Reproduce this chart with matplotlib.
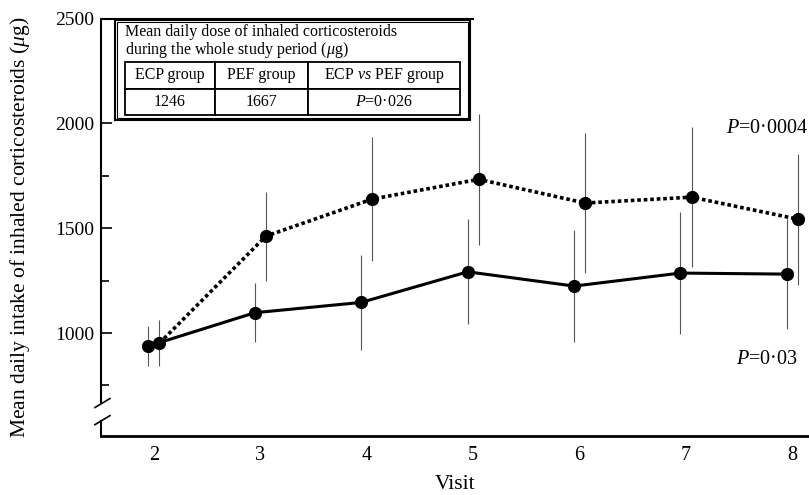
import matplotlib
matplotlib.use('Agg')
import matplotlib.pyplot as plt
import numpy as np
from matplotlib.patches import Rectangle

plt.rcParams['font.family'] = ['Liberation Serif', 'DejaVu Serif']
plt.rcParams['mathtext.fontset'] = 'custom'
plt.rcParams['mathtext.rm'] = 'Liberation Serif'
plt.rcParams['mathtext.it'] = 'Liberation Serif:italic'

# values
visits = [2, 3, 4, 5, 6, 7, 8]
ecp_mean = [938, 1097, 1146, 1292, 1224, 1286, 1281]
ecp_err = [95, 142, 228, 250, 266, 290, 262]
pef_mean = [952, 1462, 1639, 1733, 1620, 1648, 1543]
pef_err = [110, 212, 297, 314, 336, 335, 312]

box_title = ['Mean daily dose of inhaled corticosteroids',
             'during the whole study period ($\\mu$g)']
table_header = ['ECP group', 'PEF group', 'ECP $vs$ PEF group']
table_values = ['1246', '1667', '$P$=0·026']
p_pef = '$P$=0·0004'
p_ecp = '$P$=0·03'

fig = plt.figure(figsize=(8.09, 4.95), dpi=100)
ax = fig.add_axes([0.1248, 0.1192, 0.8752, 0.8434])

# small horizontal shift so the two groups don't overlap
shift = 0.052
x = np.array(visits)

ax.errorbar(x - shift, ecp_mean, yerr=ecp_err, fmt='none', ecolor='#555555',
            elinewidth=0.8, capsize=0, zorder=1)
ax.errorbar(x + shift, pef_mean, yerr=pef_err, fmt='none', ecolor='#555555',
            elinewidth=0.8, capsize=0, zorder=1)
ax.plot(x - shift, ecp_mean, color='black', lw=2.2, marker='o', markersize=8.5, zorder=3)
ax.plot(x + shift, pef_mean, color='black', lw=2.6, linestyle=(0, (1, 0.8)),
        marker='o', markersize=8.5, zorder=3)

ax.set_xlim(1.502, 8.156)
ax.set_ylim(509, 2500)
ax.set_xticks(visits)
ax.set_yticks([1000, 1500, 2000, 2500])
ax.set_yticks([750, 1250, 1750], minor=True)
ax.tick_params(axis='x', length=0, labelsize=14.5, pad=7)
ax.tick_params(axis='y', which='major', direction='in', length=8, width=1.2, labelsize=14, pad=5)
ax.tick_params(axis='y', which='minor', direction='in', length=6, width=1.2)

ax.set_xlabel('Visit', fontsize=15.5)
ax.xaxis.set_label_coords(0.5, -0.093)
ax.set_ylabel('Mean daily intake of inhaled corticosteroids ($\\mu$g)', fontsize=15.5)
ax.yaxis.set_label_coords(-0.0975, 0.5)

# spines: left with a break, partial top line, no right
for side in ['left', 'right', 'top']:
    ax.spines[side].set_visible(False)
ax.spines['bottom'].set_linewidth(2)
kw = dict(transform=ax.transAxes, color='black', clip_on=False)
ax.plot([0, 0], [0, 0.036], lw=1.5, **kw)
ax.plot([0, 0], [0.081, 1], lw=1.5, **kw)
ax.plot([0, 0.5254], [1, 1], lw=1.5, **kw)
for yb in [0.038, 0.079]:
    ax.plot([-0.0085, 0.0127], [yb - 0.0108, yb + 0.0108], lw=1.2, **kw)

# inset box with double border
ax.add_patch(Rectangle((0.0205, 0.7569), 0.5007, 0.2407, transform=ax.transAxes,
                       fill=True, facecolor='white', edgecolor='black', lw=1.5,
                       clip_on=False, zorder=4))
ax.add_patch(Rectangle((0.0233, 0.7617), 0.4951, 0.2311, transform=ax.transAxes,
                       fill=False, edgecolor='black', lw=0.8, clip_on=False, zorder=4))
ax.text(0.0339, 0.967, box_title[0], transform=ax.transAxes, fontsize=11.5,
        va='center', ha='left', zorder=5)
ax.text(0.0339, 0.925, box_title[1], transform=ax.transAxes, fontsize=11.5,
        va='center', ha='left', zorder=5)

tbl = ax.table(cellText=[table_header, table_values], cellLoc='center',
               colWidths=[0.269, 0.278, 0.454],
               bbox=[0.0339, 0.7689, 0.4732, 0.1269], zorder=5)
tbl.auto_set_font_size(False)
tbl.set_fontsize(11.5)
for cell in tbl.get_celld().values():
    cell.set_linewidth(1.3)
    cell.set_edgecolor('black')

ax.text(0.9986, 0.7377, p_pef, transform=ax.transAxes, fontsize=14.5,
        ha='right', va='center')
ax.text(0.9845, 0.1844, p_ecp, transform=ax.transAxes, fontsize=14.5,
        ha='right', va='center')

fig.savefig('out.png', dpi=100)
